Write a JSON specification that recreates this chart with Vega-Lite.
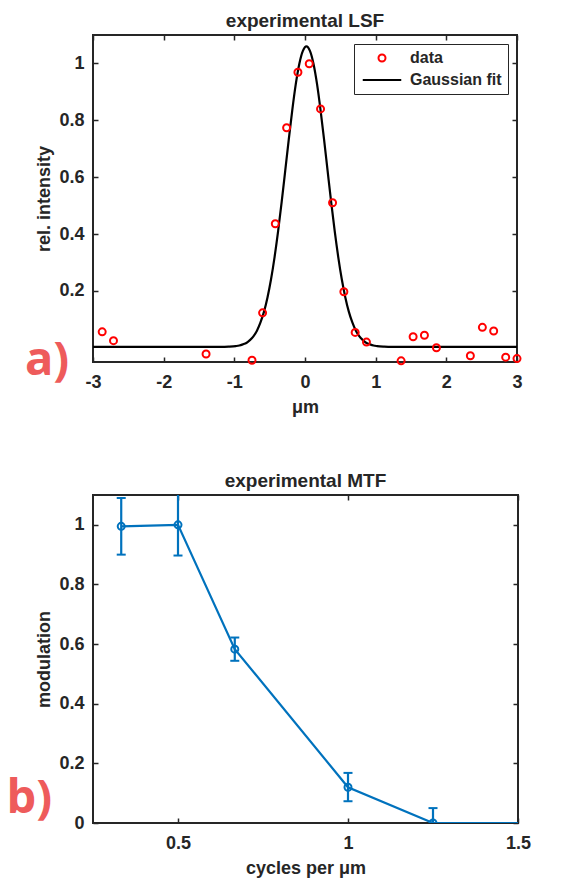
{
  "$schema": "https://vega.github.io/schema/vega-lite/v6.json",
  "background": "white",
  "padding": {"left": 5, "top": 11, "right": 5, "bottom": 0},
  "spacing": 54,
  "resolve": {"legend": {"color": "independent", "shape": "independent"}, "scale": {"color": "independent", "shape": "independent"}},
  "datasets": {
    "gauss": [
      {"x": -3, "y": 0.003}, {"x": -1.18, "y": 0.003}, {"x": -1.08, "y": 0.004}, {"x": -0.98, "y": 0.006},
      {"x": -0.93, "y": 0.008}, {"x": -0.88, "y": 0.012}, {"x": -0.83, "y": 0.017}, {"x": -0.78, "y": 0.027},
      {"x": -0.73, "y": 0.040}, {"x": -0.68, "y": 0.060}, {"x": -0.63, "y": 0.089}, {"x": -0.58, "y": 0.127},
      {"x": -0.53, "y": 0.178}, {"x": -0.48, "y": 0.242}, {"x": -0.43, "y": 0.320}, {"x": -0.38, "y": 0.411},
      {"x": -0.33, "y": 0.513}, {"x": -0.28, "y": 0.622}, {"x": -0.23, "y": 0.732}, {"x": -0.18, "y": 0.836},
      {"x": -0.13, "y": 0.928}, {"x": -0.08, "y": 0.999}, {"x": -0.03, "y": 1.044}, {"x": 0.02, "y": 1.060},
      {"x": 0.07, "y": 1.044}, {"x": 0.12, "y": 0.999}, {"x": 0.17, "y": 0.928}, {"x": 0.22, "y": 0.836},
      {"x": 0.27, "y": 0.732}, {"x": 0.32, "y": 0.622}, {"x": 0.37, "y": 0.513}, {"x": 0.42, "y": 0.411},
      {"x": 0.47, "y": 0.320}, {"x": 0.52, "y": 0.242}, {"x": 0.57, "y": 0.178}, {"x": 0.62, "y": 0.127},
      {"x": 0.67, "y": 0.089}, {"x": 0.72, "y": 0.060}, {"x": 0.77, "y": 0.040}, {"x": 0.82, "y": 0.027},
      {"x": 0.87, "y": 0.017}, {"x": 0.92, "y": 0.012}, {"x": 0.97, "y": 0.008}, {"x": 1.02, "y": 0.006},
      {"x": 1.12, "y": 0.004}, {"x": 1.22, "y": 0.003}, {"x": 3, "y": 0.003}
    ],
    "lsf": [
      {"x": -2.87, "y": 0.056, "series": "data"}, {"x": -2.71, "y": 0.025, "series": "data"},
      {"x": -1.40, "y": -0.022, "series": "data"}, {"x": -0.75, "y": -0.044, "series": "data"},
      {"x": -0.60, "y": 0.123, "series": "data"}, {"x": -0.42, "y": 0.436, "series": "data"},
      {"x": -0.26, "y": 0.774, "series": "data"}, {"x": -0.10, "y": 0.969, "series": "data"},
      {"x": 0.06, "y": 0.999, "series": "data"}, {"x": 0.22, "y": 0.84, "series": "data"},
      {"x": 0.39, "y": 0.51, "series": "data"}, {"x": 0.55, "y": 0.197, "series": "data"},
      {"x": 0.71, "y": 0.054, "series": "data"}, {"x": 0.87, "y": 0.02, "series": "data"},
      {"x": 1.36, "y": -0.046, "series": "data"}, {"x": 1.53, "y": 0.039, "series": "data"},
      {"x": 1.69, "y": 0.044, "series": "data"}, {"x": 1.86, "y": 0.0, "series": "data"},
      {"x": 2.34, "y": -0.028, "series": "data"}, {"x": 2.51, "y": 0.072, "series": "data"},
      {"x": 2.67, "y": 0.059, "series": "data"}, {"x": 2.84, "y": -0.033, "series": "data"},
      {"x": 3.0, "y": -0.038, "series": "data"}
    ],
    "mtf": [
      {"f": 0.333, "m": 0.995, "lo": 0.90, "hi": 1.09},
      {"f": 0.5, "m": 1.0, "lo": 0.897, "hi": 1.11},
      {"f": 0.667, "m": 0.583, "lo": 0.544, "hi": 0.622},
      {"f": 1.0, "m": 0.12, "lo": 0.073, "hi": 0.168},
      {"f": 1.25, "m": 0.0, "lo": -0.05, "hi": 0.05},
      {"f": 2.0, "m": 0.0}
    ]
  },
  "config": {
    "font": "Liberation Sans",
    "view": {"stroke": "#262626", "strokeWidth": 2},
    "axis": {
      "domain": false, "grid": false, "tickSize": -5, "tickColor": "#262626", "tickWidth": 1.5,
      "labelFont": "Liberation Sans", "labelFontSize": 18, "labelFontWeight": "bold", "labelColor": "#262626",
      "labelFlush": false, "labelBound": false, "labelOverlap": false, "format": "~g",
      "labelExpr": "replace(datum.label, '−', '-')",
      "titleFont": "Liberation Sans", "titleFontSize": 18, "titleFontWeight": "bold", "titleColor": "#262626"
    },
    "axisX": {"labelPadding": 16, "titlePadding": 7},
    "axisY": {"labelPadding": 14, "titlePadding": 5},
    "title": {"font": "Liberation Sans", "fontSize": 19, "fontWeight": "bold", "color": "#262626", "offset": 3},
    "legend": {
      "padding": 6, "fillColor": "white", "strokeColor": "#262626",
      "labelFont": "Liberation Sans", "labelFontSize": 16, "labelFontWeight": "bold", "labelColor": "#262626",
      "symbolOffset": 14, "labelOffset": 20, "rowPadding": 6, "symbolStrokeWidth": 2, "symbolSize": 49
    }
  },
  "vconcat": [
    {
      "title": "experimental LSF",
      "width": 424,
      "height": 327,
      "layer": [
        {
          "data": {"name": "gauss"},
          "mark": {"type": "line", "color": "#000000", "strokeWidth": 2.2, "interpolate": "monotone", "clip": true},
          "encoding": {
            "x": {"field": "x", "type": "quantitative", "scale": {"domain": [-3, 3], "nice": false},
                  "axis": {"values": [-3, -2, -1, 0, 1, 2, 3], "title": "μm"}},
            "y": {"field": "y", "type": "quantitative", "scale": {"domain": [-0.05, 1.1], "nice": false, "zero": false},
                  "axis": {"values": [0.2, 0.4, 0.6, 0.8, 1], "title": "rel. intensity"}}
          }
        },
        {
          "data": {"name": "lsf"},
          "mark": {"type": "point", "filled": false, "strokeWidth": 2, "size": 49, "opacity": 1},
          "encoding": {
            "x": {"field": "x", "type": "quantitative",
                  "axis": {"orient": "top", "values": [-3, -2, -1, 0, 1, 2, 3], "labels": false, "title": null}},
            "y": {"field": "y", "type": "quantitative",
                  "axis": {"orient": "right", "values": [0.2, 0.4, 0.6, 0.8, 1], "labels": false, "title": null}},
            "color": {"field": "series", "type": "nominal",
                      "scale": {"domain": ["data", "Gaussian fit"], "range": ["#FF0000", "#000000"]},
                      "legend": {"title": null, "orient": "top-right", "offset": 9}},
            "shape": {"field": "series", "type": "nominal",
                      "scale": {"domain": ["data", "Gaussian fit"], "range": ["circle", "M-5.5,0H5.5"]},
                      "legend": {"title": null, "orient": "top-right", "offset": 9}}
          }
        },
        {
          "data": {"values": [{}]},
          "mark": {"type": "text", "text": "a)", "font": "Open Sans", "fontSize": 47, "fontWeight": "bold",
                   "color": "#EE5B5B", "align": "center", "baseline": "alphabetic"},
          "encoding": {
            "x": {"datum": -3.65, "type": "quantitative", "axis": null},
            "y": {"datum": -0.095, "type": "quantitative", "axis": null}
          }
        }
      ],
      "resolve": {"axis": {"x": "independent", "y": "independent"}}
    },
    {
      "title": "experimental MTF",
      "width": 425,
      "height": 328,
      "layer": [
        {
          "data": {"name": "mtf"},
          "mark": {"type": "line", "color": "#0072BD", "strokeWidth": 2.2, "clip": true},
          "encoding": {
            "x": {"field": "f", "type": "quantitative", "scale": {"domain": [0.25, 1.5], "nice": false, "zero": false},
                  "axis": {"values": [0.5, 1, 1.5], "title": "cycles per μm"}},
            "y": {"field": "m", "type": "quantitative", "scale": {"domain": [0, 1.1], "nice": false},
                  "axis": {"values": [0, 0.2, 0.4, 0.6, 0.8, 1], "title": "modulation"}}
          }
        },
        {
          "data": {"name": "mtf"},
          "mark": {"type": "rule", "color": "#0072BD", "strokeWidth": 2.2, "clip": true},
          "encoding": {
            "x": {"field": "f", "type": "quantitative",
                  "axis": {"orient": "top", "values": [0.5, 1, 1.5], "labels": false, "title": null}},
            "y": {"field": "lo", "type": "quantitative",
                  "axis": {"orient": "right", "values": [0, 0.2, 0.4, 0.6, 0.8, 1], "labels": false, "title": null}},
            "y2": {"field": "hi"}
          }
        },
        {
          "data": {"name": "mtf"},
          "mark": {"type": "tick", "orient": "horizontal", "color": "#0072BD", "size": 9, "thickness": 2, "opacity": 1, "clip": true},
          "encoding": {
            "x": {"field": "f", "type": "quantitative", "axis": null},
            "y": {"field": "lo", "type": "quantitative", "axis": null}
          }
        },
        {
          "data": {"name": "mtf"},
          "mark": {"type": "tick", "orient": "horizontal", "color": "#0072BD", "size": 9, "thickness": 2, "opacity": 1, "clip": true},
          "encoding": {
            "x": {"field": "f", "type": "quantitative", "axis": null},
            "y": {"field": "hi", "type": "quantitative", "axis": null}
          }
        },
        {
          "data": {"name": "mtf"},
          "mark": {"type": "point", "filled": false, "color": "#0072BD", "strokeWidth": 2, "size": 49, "opacity": 1, "clip": true},
          "encoding": {
            "x": {"field": "f", "type": "quantitative", "axis": null},
            "y": {"field": "m", "type": "quantitative", "axis": null}
          }
        },
        {
          "data": {"values": [{}]},
          "mark": {"type": "text", "text": "b)", "font": "Open Sans", "fontSize": 47, "fontWeight": "bold",
                   "color": "#EE5B5B", "align": "center", "baseline": "alphabetic"},
          "encoding": {
            "x": {"datum": 0.063, "type": "quantitative", "axis": null},
            "y": {"datum": 0.035, "type": "quantitative", "axis": null}
          }
        }
      ],
      "resolve": {"axis": {"x": "independent", "y": "independent"}}
    }
  ]
}
